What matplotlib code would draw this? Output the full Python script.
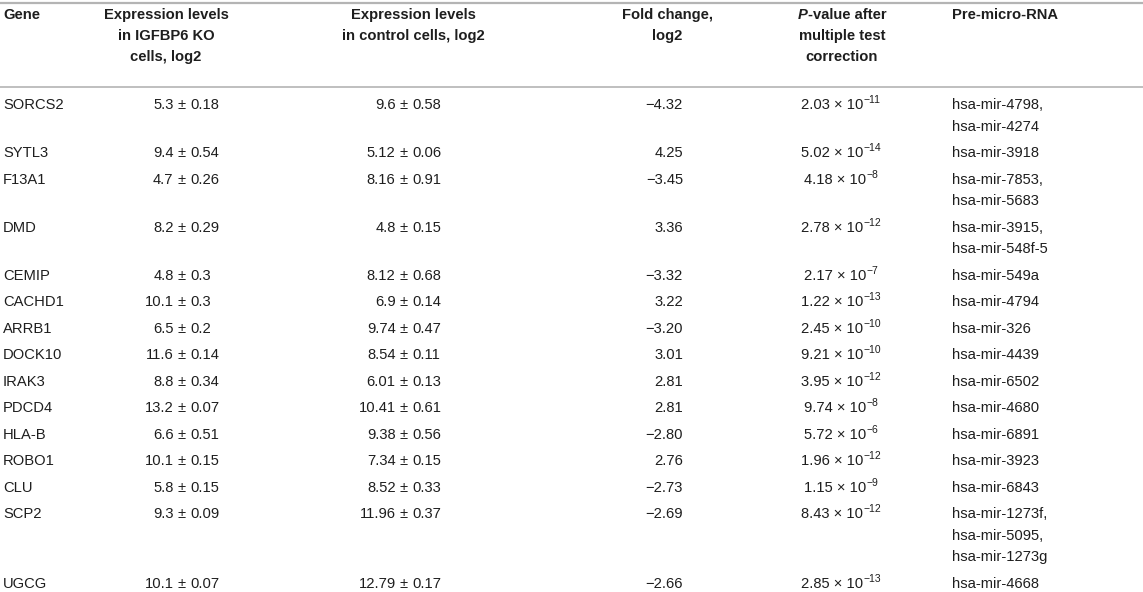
import matplotlib
matplotlib.use('Agg')
import matplotlib.pyplot as plt

plt.rcParams['font.family'] = ['Liberation Sans', 'DejaVu Sans']

# Table content
genes = ['SORCS2', 'SYTL3', 'F13A1', 'DMD', 'CEMIP', 'CACHD1', 'ARRB1', 'DOCK10',
         'IRAK3', 'PDCD4', 'HLA-B', 'ROBO1', 'CLU', 'SCP2', 'UGCG']
ko_mean = ['5.3', '9.4', '4.7', '8.2', '4.8', '10.1', '6.5', '11.6', '8.8', '13.2',
           '6.6', '10.1', '5.8', '9.3', '10.1']
ko_sd = ['0.18', '0.54', '0.26', '0.29', '0.3', '0.3', '0.2', '0.14', '0.34', '0.07',
         '0.51', '0.15', '0.15', '0.09', '0.07']
ctrl_mean = ['9.6', '5.12', '8.16', '4.8', '8.12', '6.9', '9.74', '8.54', '6.01', '10.41',
             '9.38', '7.34', '8.52', '11.96', '12.79']
ctrl_sd = ['0.58', '0.06', '0.91', '0.15', '0.68', '0.14', '0.47', '0.11', '0.13', '0.61',
           '0.56', '0.15', '0.33', '0.37', '0.17']
fold_change = [-4.32, 4.25, -3.45, 3.36, -3.32, 3.22, -3.20, 3.01, 2.81, 2.81,
               -2.80, 2.76, -2.73, -2.69, -2.66]
p_mant = ['2.03', '5.02', '4.18', '2.78', '2.17', '1.22', '2.45', '9.21', '3.95', '9.74',
          '5.72', '1.96', '1.15', '8.43', '2.85']
p_exp = [-11, -14, -8, -12, -7, -13, -10, -10, -12, -8, -6, -12, -9, -12, -13]
mirna = [['hsa-mir-4798,', 'hsa-mir-4274'], ['hsa-mir-3918'],
         ['hsa-mir-7853,', 'hsa-mir-5683'], ['hsa-mir-3915,', 'hsa-mir-548f-5'],
         ['hsa-mir-549a'], ['hsa-mir-4794'], ['hsa-mir-326'], ['hsa-mir-4439'],
         ['hsa-mir-6502'], ['hsa-mir-4680'], ['hsa-mir-6891'], ['hsa-mir-3923'],
         ['hsa-mir-6843'], ['hsa-mir-1273f,', 'hsa-mir-5095,', 'hsa-mir-1273g'],
         ['hsa-mir-4668']]

W, H = 1143, 592
fig = plt.figure(figsize=(W / 100, H / 100), dpi=100)
ax = fig.add_axes([0, 0, 1, 1])
ax.set_xlim(0, W)
ax.set_ylim(H, 0)
ax.axis('off')
renderer = fig.canvas.get_renderer()

TXT = '#1e1e1e'
FS = 10.6
LINE_H = 21.5
ROW_PAD = 5.0
BASE = 5.3  # centre -> baseline offset


def draw_runs(x, y, runs, ha='left'):
    # runs: (text, kwargs, dy) drawn one after another on a shared baseline
    objs = []
    for s, kw, dy in runs:
        t = ax.text(0, y + dy, s, va='baseline', ha='left', color=TXT, **kw)
        objs.append(t)
    widths = [t.get_window_extent(renderer).width for t in objs]
    total = sum(widths)
    start = x if ha == 'left' else (x - total / 2 if ha == 'center' else x - total)
    for t, w in zip(objs, widths):
        t.set_x(start)
        start += w


# header
hdr = dict(fontsize=FS, fontweight='bold')
head_y = [14, 35, 56]
ax.text(3, head_y[0] + BASE, 'Gene', ha='left', va='baseline', color=TXT, **hdr)
for i, s in enumerate(['Expression levels', 'in IGFBP6 KO', 'cells, log2']):
    ax.text(166, head_y[i] + BASE, s, ha='center', va='baseline', color=TXT, **hdr)
for i, s in enumerate(['Expression levels', 'in control cells, log2']):
    ax.text(413, head_y[i] + BASE, s, ha='center', va='baseline', color=TXT, **hdr)
for i, s in enumerate(['Fold change,', 'log2']):
    ax.text(667, head_y[i] + BASE, s, ha='center', va='baseline', color=TXT, **hdr)
draw_runs(842, head_y[0] + BASE,
          [('P', dict(fontsize=FS, fontweight='bold', fontstyle='italic'), 0),
           ('-value after', hdr, 0)], ha='center')
for i, s in enumerate(['multiple test', 'correction']):
    ax.text(842, head_y[i + 1] + BASE, s, ha='center', va='baseline', color=TXT, **hdr)
ax.text(952, head_y[0] + BASE, 'Pre-micro-RNA', ha='left', va='baseline', color=TXT, **hdr)

# rules
ax.axhline(3, color='#b4b4b4', lw=1.6)
ax.axhline(87, color='#b4b4b4', lw=1.2)

# body
body = dict(fontsize=FS)
pm2, pm3 = 182, 404
gap = 8.4
y = 104
for i, g in enumerate(genes):
    b = y + BASE
    ax.text(3, b, g, ha='left', va='baseline', color=TXT, **body)
    ax.text(pm2 - gap, b, ko_mean[i], ha='right', va='baseline', color=TXT, **body)
    ax.text(pm2, b, '±', ha='center', va='baseline', color=TXT, **body)
    ax.text(pm2 + gap, b, ko_sd[i], ha='left', va='baseline', color=TXT, **body)
    ax.text(pm3 - gap, b, ctrl_mean[i], ha='right', va='baseline', color=TXT, **body)
    ax.text(pm3, b, '±', ha='center', va='baseline', color=TXT, **body)
    ax.text(pm3 + gap, b, ctrl_sd[i], ha='left', va='baseline', color=TXT, **body)
    ax.text(683, b, f'{fold_change[i]:.2f}'.replace('-', '\u2212'),
            ha='right', va='baseline', color=TXT, **body)
    draw_runs(841, b, [(f'{p_mant[i]} × 10', body, 0),
                       (str(p_exp[i]).replace('-', '\u2212'), dict(fontsize=7.5), -6.0)],
              ha='center')
    for k, m in enumerate(mirna[i]):
        ax.text(952, b + k * LINE_H, m, ha='left', va='baseline', color=TXT, **body)
    y += len(mirna[i]) * LINE_H + ROW_PAD

fig.savefig('out.png', dpi=100)
